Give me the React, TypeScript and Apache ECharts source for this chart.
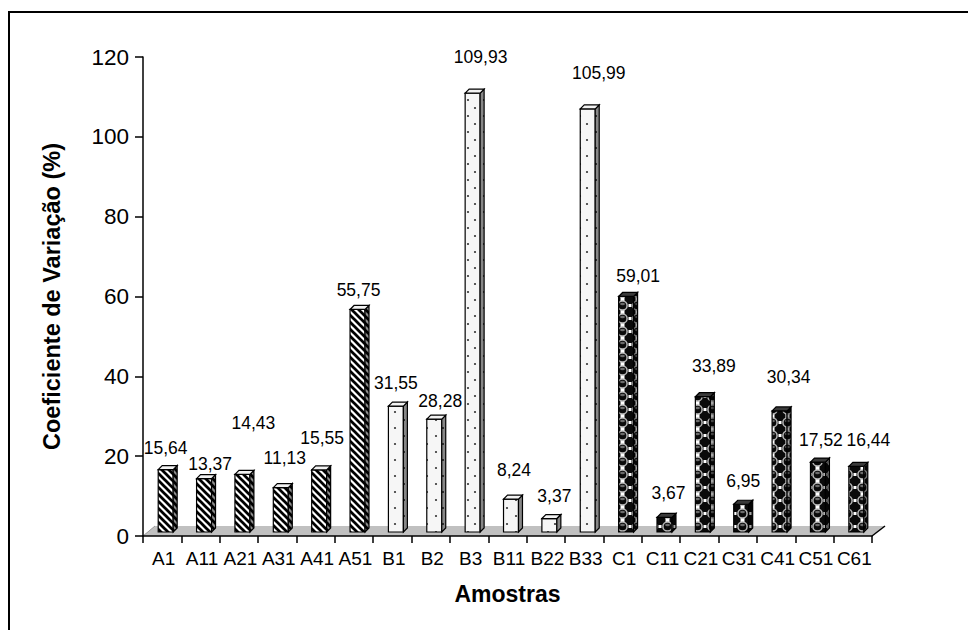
import { useEffect, useRef } from "react";
import * as echarts from "echarts";

// Samples and their coefficient of variation (%)
const categories = [
  "A1", "A11", "A21", "A31", "A41", "A51",
  "B1", "B2", "B3", "B11", "B22", "B33",
  "C1", "C11", "C21", "C31", "C41", "C51", "C61",
];
const coefVariation = [
  15.64, 13.37, 14.43, 11.13, 15.55, 55.75,
  31.55, 28.28, 109.93, 8.24, 3.37, 105.99,
  59.01, 3.67, 33.89, 6.95, 30.34, 17.52, 16.44,
];
const yMin = 0;
const yMax = 120;
const yStep = 20;

// Hand-placed value labels: [horizontal nudge, lift above the bar top] in px
const labelNudge: Array<[number, number]> = [
  [0, 26], [6, 19], [11, 55], [4, 34], [3, 36], [1, 23],
  [0, 27], [6, 22], [8, 40], [3, 33], [5, 27], [11, 40],
  [12, 24], [4, 28], [11, 35], [2, 27], [9, 38], [3, 26], [12, 30],
];

const FONT = '"Liberation Sans", Arial, sans-serif';

function tile(w: number, h: number, draw: (ctx: CanvasRenderingContext2D) => void) {
  const c = document.createElement("canvas");
  c.width = w;
  c.height = h;
  const ctx = c.getContext("2d") as CanvasRenderingContext2D;
  draw(ctx);
  return { image: c.toDataURL(), w, h };
}

function buildTiles() {
  // A: diagonal hatching
  const stripes = tile(7, 7, (ctx) => {
    ctx.fillStyle = "#ffffff";
    ctx.fillRect(0, 0, 7, 7);
    ctx.strokeStyle = "#000000";
    ctx.lineWidth = 2.7;
    for (const s of [-7, 0, 7]) {
      ctx.beginPath();
      ctx.moveTo(s - 1, -1);
      ctx.lineTo(s + 8, 8);
      ctx.stroke();
    }
  });
  // B: sparse dots on a pale ground
  const dots = tile(16, 16, (ctx) => {
    ctx.fillStyle = "#f6f6f6";
    ctx.fillRect(0, 0, 16, 16);
    ctx.fillStyle = "#333333";
    ctx.beginPath();
    ctx.arc(4, 4, 1.1, 0, Math.PI * 2);
    ctx.fill();
    ctx.beginPath();
    ctx.arc(11, 12, 1.1, 0, Math.PI * 2);
    ctx.fill();
  });
  // C: stacked rings with white squares between them
  const spheres = tile(15, 13, (ctx) => {
    ctx.fillStyle = "#0a0a0a";
    ctx.fillRect(0, 0, 15, 13);
    ctx.fillStyle = "#ffffff";
    ctx.fillRect(5.5, 0, 4, 2);
    ctx.fillRect(5.5, 11, 4, 2);
    ctx.fillRect(0, 5, 1.5, 3);
    ctx.fillRect(13.5, 5, 1.5, 3);
    ctx.strokeStyle = "#b8b8b8";
    ctx.lineWidth = 1.5;
    ctx.beginPath();
    ctx.arc(7.5, 6.5, 4.6, 0, Math.PI * 2);
    ctx.stroke();
    ctx.fillStyle = "#6a6a6a";
    ctx.beginPath();
    ctx.ellipse(7.5, 5, 2.4, 1.3, 0, 0, Math.PI * 2);
    ctx.fill();
  });
  return { A: stripes, B: dots, C: spheres } as Record<string, { image: string; w: number; h: number }>;
}

export default function App() {
  const ref = useRef<HTMLDivElement>(null);

  useEffect(() => {
    if (!ref.current) return;
    const chart = echarts.init(ref.current, undefined, { renderer: "svg" });
    const tiles = buildTiles();
    const patternAt = (kind: string, x: number) => {
      const t = tiles[kind];
      return { image: t.image, repeat: "repeat", imageWidth: t.w, imageHeight: t.h, x, y: 0 } as any;
    };

    const renderFloor = (_params: any, api: any) => {
      const p = api.coord([0, 0]);
      const band = api.size([1, 0])[0];
      const left = p[0] - band / 2;
      const right = left + band * categories.length;
      const y0 = p[1];
      const dx = 13;
      const dy = 10;
      return {
        type: "group",
        children: [
          {
            type: "polygon",
            shape: { points: [[left, y0], [right, y0], [right + dx, y0 - dy], [left + dx - 1, y0 - dy]] },
            style: { fill: "#c0c0c0", stroke: null },
          },
          {
            type: "line",
            shape: { x1: left, y1: y0, x2: left + dx - 1, y2: y0 - dy },
            style: { stroke: "#9a9a9a", lineWidth: 1 },
          },
          {
            type: "line",
            shape: { x1: right, y1: y0, x2: right + dx, y2: y0 - dy },
            style: { stroke: "#000", lineWidth: 1.5 },
          },
        ],
      };
    };

    const renderBar = (params: any, api: any) => {
      const idx = params.dataIndex;
      const i = api.value(0);
      const v = api.value(1);
      const p0 = api.coord([i, 0]);
      const p1 = api.coord([i, v]);
      const band = api.size([1, 0])[0];
      const w = band * 0.39;
      const shiftX = 3.5;
      const shiftY = 4;
      const dx = 4;
      const dy = 4;
      const left = p0[0] - w / 2 + shiftX;
      const right = left + w;
      const bottom = p0[1] - shiftY;
      const top = p1[1] - shiftY;
      const kind = categories[idx].charAt(0);
      const sideShade = kind === "C" ? "rgba(0,0,0,0.35)" : "rgba(0,0,0,0.45)";
      const topFill = kind === "C" ? "#3a3a3a" : "#f2f2f2";
      const [ndx, lift] = labelNudge[idx];
      const text = v.toFixed(2).replace(".", ",");
      const side = [[right, bottom], [right, top], [right + dx, top - dy], [right + dx, bottom - dy]];
      return {
        type: "group",
        children: [
          {
            type: "polygon",
            shape: { points: [[left, bottom], [left, top], [right, top], [right, bottom]] },
            style: { fill: patternAt(kind, left), stroke: "#000", lineWidth: 1.2 },
          },
          {
            type: "polygon",
            shape: { points: side },
            style: { fill: patternAt(kind, right - 5), stroke: null },
          },
          {
            type: "polygon",
            shape: { points: side },
            style: { fill: sideShade, stroke: "#000", lineWidth: 1.2 },
          },
          {
            type: "polygon",
            shape: { points: [[left, top], [left + dx, top - dy], [right + dx, top - dy], [right, top]] },
            style: { fill: topFill, stroke: "#000", lineWidth: 1.2 },
          },
          {
            type: "text",
            x: left + w / 2 + ndx,
            y: p1[1] - lift,
            style: {
              text,
              fill: "#000",
              font: `17.5px ${FONT}`,
              align: "center",
              textAlign: "center",
              verticalAlign: "middle",
              textVerticalAlign: "middle",
            },
          },
        ],
      };
    };

    chart.setOption({
      animation: false,
      backgroundColor: "#ffffff",
      textStyle: { fontFamily: FONT, color: "#000" },
      grid: { left: 143, right: 96, top: 57, bottom: 94, containLabel: false },
      graphic: [
        {
          type: "rect",
          shape: { x: 9, y: 12, width: 1000, height: 700 },
          style: { fill: "none", stroke: "#000", lineWidth: 2 },
          silent: true,
        },
      ],
      xAxis: {
        type: "category",
        data: categories,
        z: 5,
        name: "Amostras",
        nameLocation: "middle",
        nameGap: 46,
        nameTextStyle: { fontSize: 23, fontWeight: "bold", fontFamily: FONT, color: "#000" },
        axisLine: { lineStyle: { color: "#000", width: 1.5 } },
        axisTick: { show: true, length: 7, lineStyle: { color: "#000", width: 1.5 } },
        axisLabel: { interval: 0, fontSize: 19, margin: 13, color: "#000", fontFamily: FONT, padding: [0, 0, 0, 3] },
        splitLine: { show: false },
      },
      yAxis: {
        type: "value",
        min: yMin,
        max: yMax,
        interval: yStep,
        z: 5,
        name: "Coeficiente de Variação (%)",
        nameLocation: "middle",
        nameRotate: 90,
        nameGap: 79,
        nameTextStyle: { fontSize: 23.5, fontWeight: "bold", fontFamily: FONT, color: "#000" },
        axisLine: { show: true, lineStyle: { color: "#000", width: 1.5 } },
        axisTick: { show: true, length: 8, lineStyle: { color: "#000", width: 1.5 } },
        axisLabel: { fontSize: 22.5, margin: 14, color: "#000", fontFamily: FONT },
        splitLine: { show: false },
      },
      series: [
        {
          type: "custom",
          name: "floor",
          z: 1,
          silent: true,
          renderItem: renderFloor,
          data: [[0, 0]],
          encode: { x: 0, y: 1 },
        },
        {
          type: "custom",
          name: "CV",
          z: 2,
          renderItem: renderBar,
          data: coefVariation.map((v, i) => [i, v]),
          encode: { x: 0, y: 1 },
        },
      ],
    });

    return () => chart.dispose();
  }, []);

  return (
    <div
      ref={ref}
      style={{ position: "absolute", left: 0, top: 0, width: 968, height: 630, background: "#fff" }}
    />
  );
}
